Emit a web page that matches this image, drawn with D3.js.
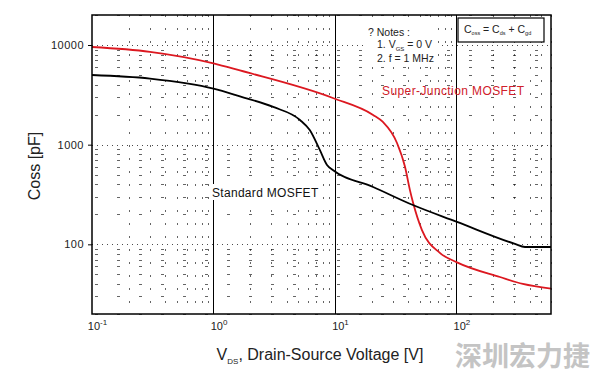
<!DOCTYPE html>
<html lang="en">
<head>
<meta charset="UTF-8">
<title>Coss vs VDS</title>
<script src="https://d3js.org/d3.v7.min.js"></script>
<style>
  body { margin: 0; background: #fff; font-family: Arial, "Liberation Sans", sans-serif; }
  .frame { fill: none; stroke: #000; stroke-width: 1.5px; }
  .major-v { stroke: #000; stroke-width: 1px; }
  .grid { stroke: #000; stroke-width: 1px; }
  .tick text { font-size: 11px; fill: #222; }
</style>
</head>
<body>
<svg id="chart" width="600" height="374"></svg>
<script>
// Drain-source voltage [V] and output capacitance [pF]
const stdVds  = [0.1, 0.3, 1, 1.65, 3.1, 5.15, 6.2, 7.5, 8.6, 9.6, 20.6, 43.8, 101, 303, 366, 600];
const stdCoss = [5000, 4600, 3650, 3050, 2390, 1770, 1400, 885, 625, 557, 376, 248, 168, 101, 94, 94];

const sjVds  = [0.1, 0.3, 1, 1.65, 9.6, 20.6, 24.8, 32.4, 37.7, 41.4, 44, 52, 73, 101, 228, 352, 600];
const sjCoss = [9550, 8550, 6550, 5550, 2940, 1990, 1690, 1040, 600, 350, 260, 139, 82, 66, 47, 40, 36];

const xDomain = [0.1, 600];
const yDomain = [20, 20000];
const xDecades = [0.1, 1, 10, 100];
const yMajor = [100, 1000, 10000];

const svg = d3.select("#chart");
const pLeft = 92, pRight = 551, pTop = 15, pBottom = 314;

const x = d3.scaleLog().domain(xDomain).range([pLeft, pRight]);
const y = d3.scaleLog().domain(yDomain).range([pBottom, pTop]);

// minor grid values
const xMinor = [];
[0.1, 1, 10, 100].forEach(d => { for (let k = 2; k <= 9; k++) if (d * k <= 600) xMinor.push(d * k); });
const yMinor = [];
[10, 100, 1000, 10000].forEach(d => { for (let k = 2; k <= 9; k++) if (d * k >= 20 && d * k <= 20000) yMinor.push(d * k); });

const g = svg.append("g");

g.selectAll(".vminor").data(xMinor).enter().append("line")
  .attr("class", "grid")
  .attr("x1", d => Math.round(x(d)) + 0.5).attr("x2", d => Math.round(x(d)) + 0.5)
  .attr("y1", pTop).attr("y2", pBottom)
  .attr("stroke-dasharray", "2,11")
  .attr("opacity", 0.6);

g.selectAll(".hminor").data(yMinor).enter().append("line")
  .attr("class", "grid")
  .attr("x1", pLeft).attr("x2", pRight)
  .attr("y1", d => Math.round(y(d)) + 0.5).attr("y2", d => Math.round(y(d)) + 0.5)
  .attr("stroke-dasharray", "3,19")
  .attr("stroke-dashoffset", -3)
  .attr("opacity", 0.6);

g.selectAll(".hmajor").data(yMajor).enter().append("line")
  .attr("class", "grid")
  .attr("x1", pLeft).attr("x2", pRight)
  .attr("y1", d => Math.round(y(d)) + 0.5).attr("y2", d => Math.round(y(d)) + 0.5)
  .attr("stroke-dasharray", "1,4")
  .attr("opacity", 0.7);

g.selectAll(".vmajor").data(xDecades.slice(1)).enter().append("line")
  .attr("class", "major-v")
  .attr("x1", d => Math.round(x(d)) + 0.5).attr("x2", d => Math.round(x(d)) + 0.5)
  .attr("y1", pTop).attr("y2", pBottom);

// curves
const line = d3.line().x(d => x(d[0])).y(d => y(d[1])).curve(d3.curveMonotoneX);

svg.append("path")
  .datum(sjVds.map((v, i) => [v, sjCoss[i]]))
  .attr("d", line)
  .attr("fill", "none").attr("stroke", "#dc1820").attr("stroke-width", 1.8);

svg.append("path")
  .datum(stdVds.map((v, i) => [v, stdCoss[i]]))
  .attr("d", line)
  .attr("fill", "none").attr("stroke", "#000").attr("stroke-width", 1.8);

svg.append("rect").attr("class", "frame")
  .attr("x", pLeft).attr("y", pTop).attr("width", pRight - pLeft).attr("height", pBottom - pTop);

// y axis
const yAxis = svg.append("g").attr("transform", `translate(${pLeft},0)`)
  .call(d3.axisLeft(y).tickValues(yMajor).tickFormat(d3.format("d")).tickSize(4).tickPadding(4));
yAxis.select(".domain").remove();
yAxis.selectAll(".tick text").attr("letter-spacing", "0.5px");

// x axis with superscript labels
const xAxis = svg.append("g").attr("transform", `translate(0,${pBottom})`)
  .call(d3.axisBottom(x).tickValues(xDecades).tickSize(0).tickPadding(8).tickFormat(() => ""));
xAxis.select(".domain").remove();
xAxis.selectAll(".tick text").each(function(d) {
  const t = d3.select(this).attr("dx", "5px");
  t.append("tspan").text("10");
  t.append("tspan").attr("font-size", "8px").attr("dy", "-5").text(Math.round(Math.log10(d)));
});

// axis titles
const xt = svg.append("text").attr("x", 320).attr("y", 360).attr("text-anchor", "middle")
  .attr("font-size", "16px").attr("fill", "#222");
xt.append("tspan").text("V");
xt.append("tspan").attr("font-size", "8px").attr("dy", 4).text("DS");
xt.append("tspan").attr("dy", -4).text(", Drain-Source Voltage [V]");

svg.append("text").attr("transform", "translate(40,166) rotate(-90)")
  .attr("text-anchor", "middle").attr("font-size", "16px").attr("fill", "#222")
  .text("Coss [pF]");

// curve labels
svg.append("text").attr("x", 382).attr("y", 95).attr("font-size", "12px")
  .attr("fill", "#d0202a").attr("letter-spacing", "0.4px").text("Super-Junction MOSFET");
svg.append("rect").attr("x", 210).attr("y", 184).attr("width", 112).attr("height", 16).attr("fill", "#fff");
svg.append("text").attr("x", 212).attr("y", 197).attr("font-size", "12px")
  .attr("fill", "#111").attr("letter-spacing", "0.3px").text("Standard MOSFET");

// notes
svg.append("rect").attr("x", 366).attr("y", 22).attr("width", 72).attr("height", 44).attr("fill", "#fff");
svg.append("text").attr("x", 368).attr("y", 36).attr("font-size", "10.5px").attr("fill", "#222")
  .text("?   Notes :");
const n1 = svg.append("text").attr("x", 377).attr("y", 48).attr("font-size", "10.5px").attr("fill", "#222");
n1.append("tspan").text("1. V");
n1.append("tspan").attr("font-size", "6px").attr("dy", 3).text("GS");
n1.append("tspan").attr("dy", -3).text(" = 0 V");
svg.append("text").attr("x", 377).attr("y", 62).attr("font-size", "10.5px").attr("fill", "#222")
  .text("2. f = 1 MHz");

// Coss formula box
svg.append("rect").attr("x", 458).attr("y", 18).attr("width", 86).attr("height", 24)
  .attr("fill", "#fff").attr("stroke", "#000").attr("stroke-width", 1.2);
const f = svg.append("text").attr("x", 464).attr("y", 33).attr("font-size", "10.5px").attr("fill", "#222");
f.append("tspan").text("C");
f.append("tspan").attr("font-size", "5.5px").attr("dy", 2).text("oss");
f.append("tspan").attr("dy", -2).text(" = C");
f.append("tspan").attr("font-size", "5.5px").attr("dy", 2).text("ds");
f.append("tspan").attr("dy", -2).text(" + C");
f.append("tspan").attr("font-size", "5.5px").attr("dy", 2).text("gd");

// watermark
svg.append("text").attr("x", 590).attr("y", 366).attr("text-anchor", "end")
  .attr("font-family", "'Noto Sans CJK SC', sans-serif").attr("font-weight", "bold")
  .attr("font-size", "27px").attr("fill", "#c4c4c4").text("深圳宏力捷");
</script>
</body>
</html>
